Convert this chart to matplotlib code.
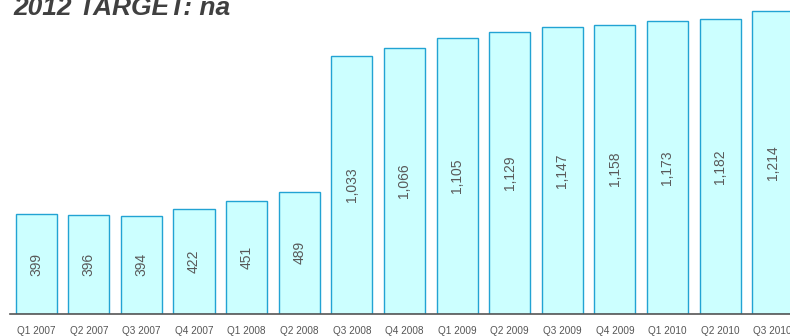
import numpy as np
import matplotlib.pyplot as plt

plt.rcParams['font.family'] = ['Liberation Sans', 'DejaVu Sans']

# Quarterly values
quarters = ['Q1 2007', 'Q2 2007', 'Q3 2007', 'Q4 2007', 'Q1 2008', 'Q2 2008',
            'Q3 2008', 'Q4 2008', 'Q1 2009', 'Q2 2009', 'Q3 2009', 'Q4 2009',
            'Q1 2010', 'Q2 2010', 'Q3 2010']
values = [399, 396, 394, 422, 451, 489, 1033, 1066, 1105, 1129, 1147, 1158,
          1173, 1182, 1214]
title = '2012 TARGET: na'

W, H = 790, 336
fig = plt.figure(figsize=(W / 100, H / 100), dpi=100)
ax = fig.add_axes([10 / W, 22 / H, 780 / W, 314 / H])

x = np.arange(len(values))
bars = ax.bar(x, values, width=0.78, color='#CCFFFF', edgecolor='#22A3D3',
              linewidth=1.0, zorder=2)

for xi, v in zip(x, values):
    ax.text(xi, v / 2, f'{v:,}', rotation=90, ha='center', va='center',
            fontsize=10, color='#595959', zorder=3)

ax.set_xlim(-0.498, 14.33)
ax.set_ylim(0, 1256)
ax.set_yticks([])
ax.set_xticks(x)
ax.set_xticklabels(quarters, fontsize=7.2, color='#555555')
ax.tick_params(axis='x', length=0, pad=9)
for side in ['top', 'right', 'left']:
    ax.spines[side].set_visible(False)
ax.spines['bottom'].set_color('#555555')
ax.spines['bottom'].set_linewidth(1.2)

fig.text(13 / W, 1 - 15 / H, title, fontsize=19, fontweight='bold',
         fontstyle='italic', color='#404040', va='baseline', ha='left')

fig.savefig('out.png', dpi=100)
